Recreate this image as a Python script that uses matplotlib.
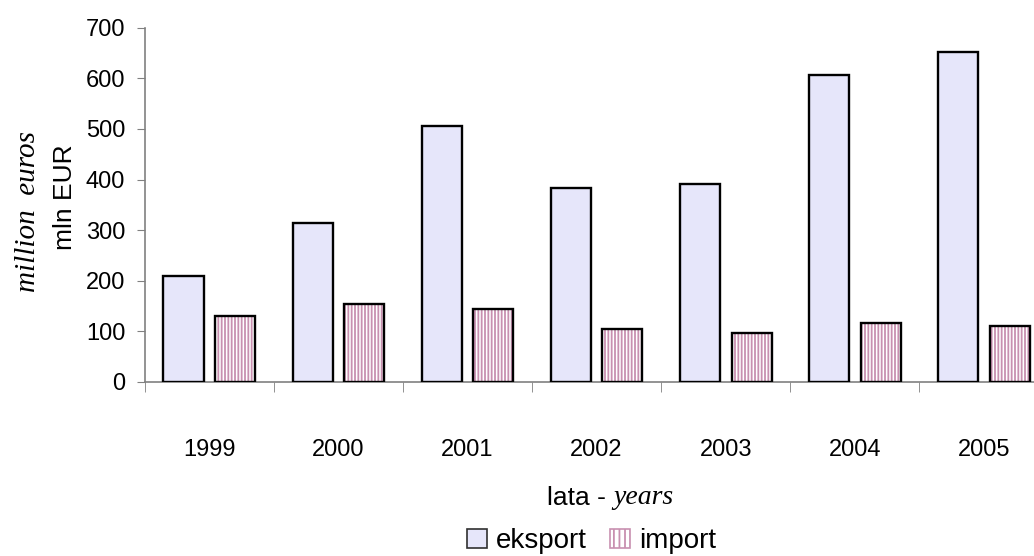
import matplotlib
matplotlib.use("Agg")
import matplotlib.pyplot as plt
from matplotlib.patches import Patch
import numpy as np

# dane: eksport / import w mln EUR
years = ["1999", "2000", "2001", "2002", "2003", "2004", "2005"]
eksport = [210, 314, 506, 384, 391, 607, 652]
imports = [130, 154, 144, 105, 97, 117, 111]

plt.rcParams['font.family'] = ['Liberation Sans', 'DejaVu Sans']
plt.rcParams['hatch.linewidth'] = 1.3

fig = plt.figure(figsize=(10.34, 5.56), dpi=100)
ax = fig.add_axes([0.140, 0.313, 0.874, 0.637])

x = np.arange(len(years))
w = 0.31
exp_color = '#E6E6FA'
imp_color = '#C890B0'

ax.bar(x - 0.2, eksport, w, color=exp_color, edgecolor='black', linewidth=1.7, zorder=3)
# import: paski pionowe, potem czarna ramka
ax.bar(x + 0.2, imports, w, color='white', edgecolor=imp_color, hatch='|||||',
       linewidth=0, zorder=3)
ax.bar(x + 0.2, imports, w, fill=False, edgecolor='black', linewidth=1.7, zorder=4)

ax.set_xlim(-0.5, len(years) - 0.5)
ax.set_ylim(0, 700)
ax.set_yticks(range(0, 701, 100))
ax.set_xticks(x)
ax.set_xticklabels(years)
ax.set_xticks(np.arange(-0.5, len(years), 1), minor=True)

for s in ['top', 'right']:
    ax.spines[s].set_visible(False)
for s in ['left', 'bottom']:
    ax.spines[s].set_color('#808080')
    ax.spines[s].set_linewidth(1.2)

ax.tick_params(axis='y', direction='out', length=6, color='#808080', labelsize=17, pad=8)
ax.tick_params(axis='x', which='major', length=0, labelsize=17, pad=41)
ax.tick_params(axis='x', which='minor', direction='out', length=7, color='#808080')

# opisy osi
fig.text(0.063, 0.646, "mln EUR", rotation=90, ha='center', va='center', fontsize=19)
fig.text(0.027, 0.619, "million  euros", rotation=90, ha='center', va='center',
         fontsize=21, family='Liberation Serif', style='italic')
fig.text(0.593, 0.105, "lata - ", ha='right', va='center', fontsize=19)
fig.text(0.593, 0.105, "years", ha='left', va='center', fontsize=20,
         family='Liberation Serif', style='italic')

handles = [Patch(facecolor=exp_color, edgecolor='#303030', linewidth=1.2),
           Patch(facecolor='white', edgecolor=imp_color, hatch='|||', linewidth=1.2)]
fig.legend(handles, ["eksport", "import"], loc='center', bbox_to_anchor=(0.572, 0.027),
           ncol=2, frameon=False, fontsize=20, handlelength=0.7, handleheight=0.7,
           handletextpad=0.32, columnspacing=0.86, borderpad=0)

fig.savefig("out.png", dpi=100)
